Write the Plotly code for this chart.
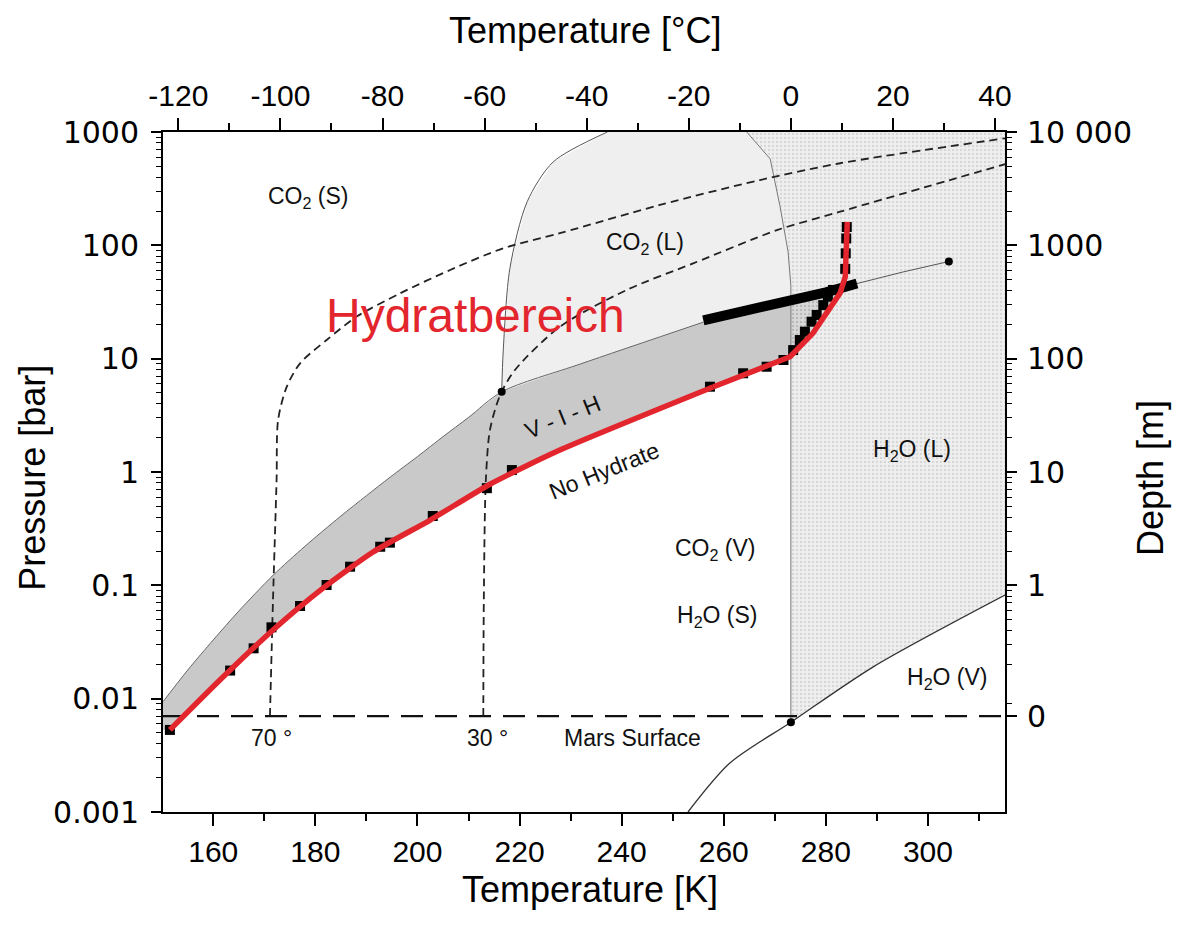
import numpy as np
import plotly.graph_objects as go

# ---------------------------------------------------------------- data
T_MIN, T_MAX = 150.15, 315.1          # temperature axis [K]
KELVIN = 273.15
MARS_P = 0.0070                       # mean Mars surface pressure [bar]

# CO2 sublimation curve and CO2 vapour-pressure curve (upper edge of V-I-H)
subl_T = [150.15, 155.0, 160.0, 165.0, 171.7, 178.0, 184.8, 190.0, 194.7,
          200.0, 205.0, 210.0, 216.5]
subl_P = [0.0094, 0.0179, 0.033, 0.0593, 0.1225, 0.222, 0.402, 0.618, 0.904,
          1.368, 2.05, 3.03, 5.1]
vap_T = [216.5, 232.0, 256.0]
vap_P = [5.1, 9.0, 21.0]

# three-phase line hydrate / liquid CO2 / vapour
hlv_T = [256.0, 265.0, 273.15, 280.0, 286.1]
hlv_P = [21.8, 26.5, 32.0, 38.5, 46.0]

# CO2 liquid-vapour line up to the critical point
crit_T = [286.1, 295.0, 304.1]
crit_P = [46.0, 58.0, 72.0]

# CO2 melting curve
melt_T = [216.5, 216.8, 218.1, 221.5, 226.6, 237.2]
melt_P = [5.1, 11.7, 62.5, 243.0, 545.0, 1000.0]

# ice melting curve, then the 273 K isotherm down to the water triple point
ice_T = [264.5, 269.1, 271.0, 272.6, 273.15, 273.15]
ice_P = [1000.0, 579.0, 224.0, 88.0, 44.0, 0.0062]

# H2O sublimation / vapour-pressure curve
h2o_T = [253.0, 261.2, 273.16, 289.3, 315.1]
h2o_P = [0.0010, 0.0027, 0.0062, 0.0191, 0.082]

# hydrate stability limit (no hydrate below / right of it)
nohyd_T = [151.5, 161.9, 171.7, 181.5, 191.3, 202.5, 214.2, 227.9,
           257.9, 273.0, 277.5, 282.8, 283.8, 284.2]
nohyd_P = [0.0053, 0.0155, 0.0404, 0.0946, 0.197, 0.377, 0.78, 1.56,
           5.62, 10.4, 16.8, 37.9, 52.6, 161.0]
N_SMOOTH = 9          # the low-temperature part is a smooth curve

# measured hydrate equilibrium points
meas_T = [151.5, 163.3, 167.9, 171.4, 177.0, 182.2, 186.8, 192.7, 194.6,
          203.0, 213.6, 218.5, 257.3, 263.8, 268.4, 271.7,
          273.6, 274.9, 275.9, 277.2, 278.2, 279.5, 280.4, 281.4,
          283.8, 283.9, 284.0, 284.1]
meas_P = [0.0053, 0.0177, 0.0278, 0.0426, 0.0657, 0.1007, 0.146, 0.219, 0.238,
          0.409, 0.72, 1.04, 5.66, 7.43, 8.49, 9.73,
          11.9, 14.6, 17.3, 21.2, 24.3, 29.7, 35.2, 40.4,
          62.0, 85.0, 115.0, 145.0]

# subsurface temperature profiles at 70 and 30 degrees latitude
g70_T = [171.1, 171.7, 172.4, 172.7, 174.4, 177.0, 182.2, 188.1, 196.6,
         206.4, 216.8, 227.9, 247.5, 267.1, 282.8, 315.1]
g70_P = [0.0070, 0.074, 0.85, 2.88, 5.66, 9.1, 14.6, 23.5, 37.7,
         60.6, 94.2, 128.0, 227.0, 377.0, 530.0, 880.0]
g30_T = [212.9, 213.0, 213.4, 214.2, 216.2, 219.1, 227.9, 241.0, 254.0,
         270.4, 282.8, 315.1]
g30_P = [0.0070, 0.074, 0.85, 2.35, 4.77, 7.94, 19.1, 40.4, 69.3,
         136.0, 198.0, 520.0]

# special points: CO2 triple point, H2O triple point, CO2 critical point
pts_T = [216.5, 273.16, 304.1]
pts_P = [5.1, 0.0062, 72.0]

# axis ticks
k_ticks = list(range(160, 301, 20))
c_ticks = list(range(-120, 41, 20))
c_labels = [str(c) for c in c_ticks]
p_ticks = [0.001, 0.01, 0.1, 1, 10, 100, 1000]
p_labels = ["0.001", "0.01", "0.1", "1", "10", "100", "1000"]
depth_vals = [MARS_P, 0.1, 1, 10, 100, 1000]
depth_labels = ["0", "1", "10", "100", "1000", "10 000"]

# ---------------------------------------------------------------- figure
fig = go.Figure()

def poly(ts, ps, **kw):
    fig.add_trace(go.Scatter(x=ts, y=ps, mode="lines", fill="toself",
                             line=dict(width=0), hoverinfo="skip",
                             showlegend=False, **kw))

def curve(ts, ps, color="#555555", width=1.0, dash=None, shape="spline"):
    fig.add_trace(go.Scatter(x=ts, y=ps, mode="lines", hoverinfo="skip",
                             line=dict(color=color, width=width, dash=dash,
                                       shape=shape, smoothing=0.8),
                             showlegend=False))

# liquid water field (stippled)
liq_T = ice_T + h2o_T[2:] + [T_MAX]
liq_P = ice_P + h2o_P[2:] + [1000.0]
poly(liq_T, liq_P, fillcolor="#efefef",
     fillpattern=dict(shape=".", size=4, solidity=0.3,
                      fgcolor="#bdbdbd", bgcolor="#efefef"))

# liquid CO2 field
i273 = hlv_T.index(KELVIN)
co2l_T = melt_T + ice_T[:5] + hlv_T[:i273 + 1][::-1] + vap_T[::-1]
co2l_P = melt_P + ice_P[:5] + hlv_P[:i273 + 1][::-1] + vap_P[::-1]
poly(co2l_T, co2l_P, fillcolor="#efefef")

# vapour - ice - hydrate field
vih_T = subl_T + vap_T[1:] + hlv_T[1:i273 + 1] + nohyd_T[:10][::-1] + [T_MIN]
vih_P = subl_P + vap_P[1:] + hlv_P[1:i273 + 1] + nohyd_P[:10][::-1] + [nohyd_P[0]]
poly(vih_T, vih_P, fillcolor="#c9c9c9")

# hydrate field above 0 degC
hw_T = [nohyd_T[9], nohyd_T[10], nohyd_T[11]] + hlv_T[i273:][::-1]
hw_P = [nohyd_P[9], nohyd_P[10], nohyd_P[11]] + hlv_P[i273:][::-1]
poly(hw_T, hw_P, fillcolor="#d9d9d9",
     fillpattern=dict(shape=".", size=4, solidity=0.3,
                      fgcolor="#9a9a9a", bgcolor="#d9d9d9"))

# phase boundaries
curve(subl_T + vap_T[1:], subl_P + vap_P[1:], color="#666666", width=1.0)
curve(melt_T, melt_P, color="#555555", width=1.0)
curve(ice_T, ice_P, color="#777777", width=1.0, shape="linear")
curve(crit_T, crit_P, color="#555555", width=1.0, shape="linear")
curve(h2o_T, h2o_P, color="#333333", width=1.3)

# latitude profiles and Mars surface
curve(g70_T, g70_P, color="#222222", width=1.8, dash="8px,5px")
curve(g30_T, g30_P, color="#222222", width=1.8, dash="8px,5px")
curve([T_MIN, T_MAX], [MARS_P, MARS_P], color="#111111", width=2.2,
      dash="22px,12px", shape="linear")

# three-phase line drawn as a band of squares
fig.add_trace(go.Scatter(x=hlv_T, y=hlv_P, mode="lines", hoverinfo="skip",
                         line=dict(color="black", width=10), showlegend=False))
fig.add_trace(go.Scatter(x=meas_T, y=meas_P, mode="markers", hoverinfo="skip",
                         marker=dict(symbol="square", size=10, color="black"),
                         showlegend=False))

# hydrate stability limit: smooth low-temperature branch + kinked high branch
RED = "#e3262d"
fig.add_trace(go.Scatter(x=nohyd_T[:N_SMOOTH], y=nohyd_P[:N_SMOOTH],
                         mode="lines", hoverinfo="skip",
                         line=dict(color=RED, width=5.5, shape="spline",
                                   smoothing=0.6),
                         showlegend=False))
fig.add_trace(go.Scatter(x=nohyd_T[N_SMOOTH - 1:], y=nohyd_P[N_SMOOTH - 1:],
                         mode="lines", hoverinfo="skip",
                         line=dict(color=RED, width=5.5), showlegend=False))

fig.add_trace(go.Scatter(x=pts_T, y=pts_P, mode="markers", hoverinfo="skip",
                         marker=dict(size=8, color="black"), showlegend=False))

# empty trace so the secondary (°C / depth) axes get drawn
fig.add_trace(go.Scatter(x=[], y=[], xaxis="x2", yaxis="y2",
                         showlegend=False, hoverinfo="skip"))

# ---------------------------------------------------------------- labels
LBL = dict(family="Liberation Sans, Arial, sans-serif", size=23, color="#111111")

def label(text, t, p, angle=0, font=LBL):
    fig.add_annotation(x=t, y=np.log10(p), xref="x", yref="y", text=text,
                       showarrow=False, textangle=angle, font=font,
                       xanchor="center", yanchor="middle")

label("CO<sub>2</sub> (S)", 178.6, 10 ** 2.418)
label("CO<sub>2</sub> (L)", 244.6, 10 ** 2.018)
label("Hydratbereich", 211.4, 10 ** 1.385,
      font=dict(family="Liberation Sans, Arial, sans-serif", size=48,
                color=RED))
label("V - I - H", 228.4, 10 ** 0.488, angle=-22)
label("No Hydrate", 236.5, 10 ** 0.009, angle=-22)
label("H<sub>2</sub>O (L)", 296.9, 10 ** 0.194)
label("CO<sub>2</sub> (V)", 258.3, 10 ** -0.688)
label("H<sub>2</sub>O (S)", 258.8, 10 ** -1.277)
label("H<sub>2</sub>O (V)", 303.8, 10 ** -1.818)
label("70 °", 171.4, 10 ** -2.343)
label("30 °", 213.7, 10 ** -2.343)
label("Mars Surface", 242.1, 10 ** -2.350)

TITLE = dict(family="Liberation Sans, Arial, sans-serif", size=36, color="black")

def title(text, x, y, angle=0):
    fig.add_annotation(x=x, y=y, xref="paper", yref="paper", text=text,
                       showarrow=False, textangle=angle, font=TITLE,
                       xanchor="center", yanchor="middle")

title("Temperature [K]", 0.507, -0.114)
title("Temperature [°C]", 0.502, 1.150)
title("Pressure [bar]", -0.156, 0.491, angle=-90)
title("Depth [m]", 1.172, 0.491, angle=-90)

# ---------------------------------------------------------------- axes
KFONT = dict(family="Liberation Sans Narrow, Liberation Sans, Arial", size=30,
             color="black")
PFONT = dict(family="DejaVu Sans, Arial", size=30, color="black")

log_minor = [m * 10 ** e for e in range(-3, 3) for m in range(2, 10)]
depth_minor = [v for v in log_minor if v > 0.0085]

axis_common = dict(showline=True, linewidth=2, linecolor="black",
                   ticks="outside", tickwidth=1.5, tickcolor="black",
                   showgrid=False, zeroline=False)

fig.update_layout(
    width=1180, height=942,
    margin=dict(l=163, r=175, t=132, b=130),
    paper_bgcolor="white", plot_bgcolor="white",
    showlegend=False,
    xaxis=dict(range=[T_MIN, T_MAX], tickvals=k_ticks, ticklen=12,
               tickfont=KFONT,
               minor=dict(dtick=10, tick0=0, ticks="outside", ticklen=7,
                          tickcolor="black", tickwidth=1.5),
               **axis_common),
    xaxis2=dict(range=[T_MIN - KELVIN, T_MAX - KELVIN], overlaying="x",
                side="top", anchor="y", tickvals=c_ticks, ticktext=c_labels,
                ticklen=12, tickfont=KFONT,
                minor=dict(dtick=10, tick0=0, ticks="outside", ticklen=7,
                           tickcolor="black", tickwidth=1.5),
                **axis_common),
    yaxis=dict(type="log", range=[-3, 3], tickvals=p_ticks, ticktext=p_labels,
               ticklen=10, tickfont=PFONT, ticklabelstandoff=6,
               minor=dict(tickvals=log_minor, ticks="outside", ticklen=5,
                          tickcolor="black", tickwidth=1.2),
               **axis_common),
    yaxis2=dict(type="log", range=[-3, 3], overlaying="y", side="right",
                anchor="x", tickvals=depth_vals, ticktext=depth_labels,
                ticklen=10, tickfont=PFONT, ticklabelstandoff=4,
                minor=dict(tickvals=depth_minor, ticks="outside", ticklen=5,
                           tickcolor="black", tickwidth=1.2),
                **axis_common),
)

fig.write_html("out.html")
